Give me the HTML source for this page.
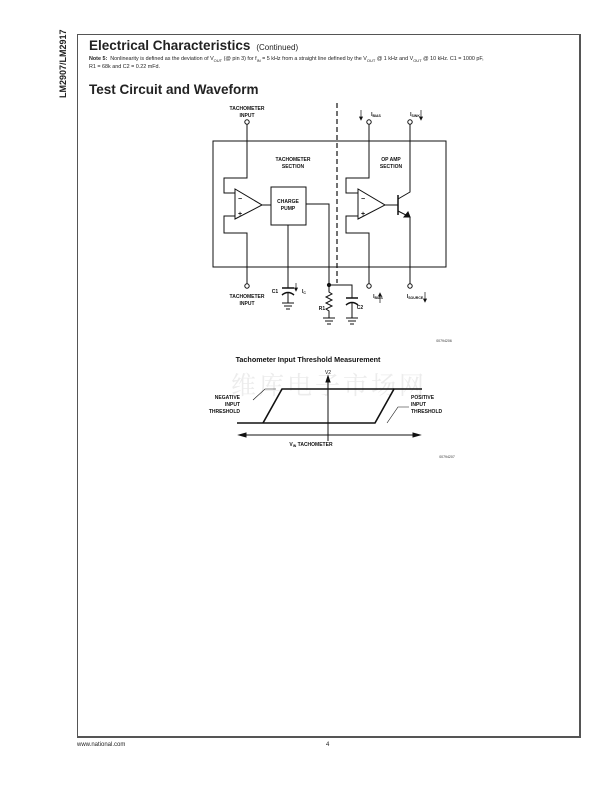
<!DOCTYPE html>
<html><head><meta charset="utf-8"><style>
body{margin:0;background:#fff;}
.p{position:relative;width:612px;height:792px;overflow:hidden;font-family:"Liberation Sans",sans-serif;}
.t{position:absolute;white-space:nowrap;color:#222;}
</style></head><body><div class="p">
<div class="t" style="left:58px;top:98px;transform:rotate(-90deg);transform-origin:0 0;font-weight:bold;font-size:9px;">LM2907/LM2917</div>
<div style="position:absolute;left:77px;top:34px;width:501px;height:701px;border:1px solid #555;border-right:2px solid #555;border-bottom:2px solid #555;"></div>
<div class="t" style="left:89px;top:38px;font-weight:bold;font-size:13.5px;">Electrical Characteristics <span style="font-weight:normal;font-size:8px;">&nbsp;(Continued)</span></div>
<div class="t" style="left:89px;top:56px;font-size:5.4px;line-height:7px;"><b>Note 5:</b> &nbsp;Nonlinearity is defined as the deviation of V<sub style="font-size:4px">OUT</sub> (@ pin 3) for f<sub style="font-size:4px">IN</sub> = 5 kHz from a straight line defined by the V<sub style="font-size:4px">OUT</sub> @ 1 kHz and V<sub style="font-size:4px">OUT</sub> @ 10 kHz. C1 = 1000 pF,<br>R1 = 68k and C2 = 0.22 mFd.</div>
<div class="t" style="left:89px;top:82px;font-weight:bold;font-size:13.5px;">Test Circuit and Waveform</div>
<div class="t" style="left:77px;top:742px;font-size:6px;">www.national.com</div>
<div class="t" style="left:326px;top:742px;font-size:6px;">4</div>
<svg style="position:absolute;left:0;top:0" width="612" height="792" font-family="Liberation Sans, sans-serif" fill="none" stroke="#111" stroke-width="1">
<text x="329" y="394" font-family="Noto Serif CJK SC, serif" font-size="25" fill="#ececec" stroke="none" text-anchor="middle" letter-spacing="3">维库电子市场网</text>
<rect x="213" y="141" width="233" height="126"/>
<line x1="337" y1="103" x2="337" y2="283" stroke-dasharray="5,3" stroke-width="1.2"/>
<g fill="#111" stroke="none" font-size="5" font-weight="bold" text-anchor="middle">
<text x="247" y="110">TACHOMETER</text><text x="247" y="117">INPUT</text>
<text x="247" y="298">TACHOMETER</text><text x="247" y="305">INPUT</text>
<text x="293" y="161">TACHOMETER</text><text x="293" y="168">SECTION</text>
<text x="391" y="161">OP AMP</text><text x="391" y="168">SECTION</text>
<text x="288" y="203">CHARGE</text><text x="288" y="210">PUMP</text>
<text x="275" y="293">C1</text><text x="304" y="293">I<tspan font-size="3.5" dy="1">C</tspan></text>
<text x="322" y="310">R1</text><text x="360" y="309">C2</text>
<text x="376" y="116">I<tspan font-size="3.5" dy="1">BIAS</tspan></text>
<text x="415" y="116">I<tspan font-size="3.5" dy="1">SINK</tspan></text>
<text x="378" y="298">I<tspan font-size="3.5" dy="1">BIAS</tspan></text>
<text x="415" y="298">I<tspan font-size="3.5" dy="1">SOURCE</tspan></text>
<text x="240" y="201" font-size="7">−</text><text x="240" y="216" font-size="7">+</text>
<text x="363" y="201" font-size="7">−</text><text x="363" y="216" font-size="7">+</text>
</g>
<g fill="#fff">
<circle cx="247" cy="122" r="2.2"/><circle cx="247" cy="286" r="2.2"/>
<circle cx="369" cy="122" r="2.2"/><circle cx="410" cy="122" r="2.2"/>
<circle cx="369" cy="286" r="2.2"/><circle cx="410" cy="286" r="2.2"/>
</g>
<polyline points="247,124 247,178 224,178 224,193 235,193"/>
<polyline points="235,216 224,216 224,233 247,233 247,284"/>
<polygon points="235,189 235,219 262,205"/>
<line x1="262" y1="205" x2="271" y2="205"/>
<rect x="271" y="187" width="35" height="38"/>
<polyline points="306,204 329,204 329,285"/>
<line x1="288" y1="225" x2="288" y2="288"/>
<line x1="282" y1="288" x2="294" y2="288" stroke-width="1.5"/>
<path d="M282,295 Q288,290 294,295" stroke-width="1.5"/>
<polyline points="288,293 288,303"/>
<line x1="282" y1="303" x2="294" y2="303"/><line x1="284" y1="306" x2="292" y2="306"/><line x1="286" y1="309" x2="290" y2="309"/>
<circle cx="329" cy="285" r="1.6" fill="#111"/>
<polyline points="329,285 352,285 352,298"/>
<line x1="346" y1="298" x2="358" y2="298" stroke-width="1.5"/>
<path d="M346,305 Q352,300 358,305" stroke-width="1.5"/>
<polyline points="352,303 352,318"/>
<line x1="346" y1="318" x2="358" y2="318"/><line x1="348" y1="321" x2="356" y2="321"/><line x1="350" y1="324" x2="354" y2="324"/>
<polyline points="329,285 329,292 332,294 326,297 332,300 326,303 332,306 326,309 329,311 329,318"/>
<line x1="323" y1="318" x2="335" y2="318"/><line x1="325" y1="321" x2="333" y2="321"/><line x1="327" y1="324" x2="331" y2="324"/>
<polyline points="369,124 369,178 346,178 346,193 358,193"/>
<polyline points="358,216 346,216 346,233 369,233 369,284"/>
<polygon points="358,189 358,219 385,205"/>
<line x1="385" y1="205" x2="398" y2="205"/>
<line x1="398" y1="195" x2="398" y2="215" stroke-width="1.5"/>
<polyline points="398,199 410,192 410,124"/>
<polyline points="398,211 410,217 410,284"/>
<polygon points="410,217 404,217 408,212" fill="#111"/>
<g stroke-width="0.7">
<line x1="361" y1="110" x2="361" y2="119"/><polygon points="359.5,117 362.5,117 361,120" fill="#111"/>
<line x1="421" y1="110" x2="421" y2="119"/><polygon points="419.5,117 422.5,117 421,120" fill="#111"/>
<line x1="380" y1="294" x2="380" y2="303"/><polygon points="378.5,296 381.5,296 380,293" fill="#111"/>
<line x1="425" y1="292" x2="425" y2="301"/><polygon points="423.5,299 426.5,299 425,302" fill="#111"/>
<line x1="296" y1="283" x2="296" y2="290"/><polygon points="294.5,288 297.5,288 296,291" fill="#111"/>
</g>
<text x="444" y="342" font-size="3.5" fill="#333" stroke="none" text-anchor="middle">00794206</text>
<text x="308" y="362" font-size="7.2" font-weight="bold" fill="#111" stroke="none" text-anchor="middle">Tachometer Input Threshold Measurement</text>
<text x="328" y="374" font-size="5" fill="#111" stroke="none" text-anchor="middle">V2</text>
<line x1="328" y1="378" x2="328" y2="441"/>
<polygon points="326,382 330,382 328,376" fill="#111"/>
<g stroke-width="1.6">
<polyline points="237,423 375,423 394,389 422,389"/>
<polyline points="263,423 282,389 394,389"/>
</g>
<line x1="241" y1="435" x2="418" y2="435"/>
<polygon points="239,435 246,433 246,437" fill="#111"/>
<polygon points="420,435 413,433 413,437" fill="#111"/>
<text x="311" y="446" font-size="5" font-weight="bold" fill="#111" stroke="none" text-anchor="middle">V<tspan font-size="3.5" dy="1">IN</tspan><tspan dy="-1"> TACHOMETER</tspan></text>
<g fill="#111" stroke="none" font-size="5" font-weight="bold">
<text x="240" y="399" text-anchor="end">NEGATIVE</text><text x="240" y="406" text-anchor="end">INPUT</text><text x="240" y="413" text-anchor="end">THRESHOLD</text>
<text x="411" y="399">POSITIVE</text><text x="411" y="406">INPUT</text><text x="411" y="413">THRESHOLD</text>
</g>
<polyline points="253,400 265,389 276,389" stroke-width="0.6"/>
<polyline points="409,407 398,407 387,423" stroke-width="0.6"/>
<text x="447" y="458" font-size="3.5" fill="#333" stroke="none" text-anchor="middle">00794207</text>
</svg>
</div></body></html>
